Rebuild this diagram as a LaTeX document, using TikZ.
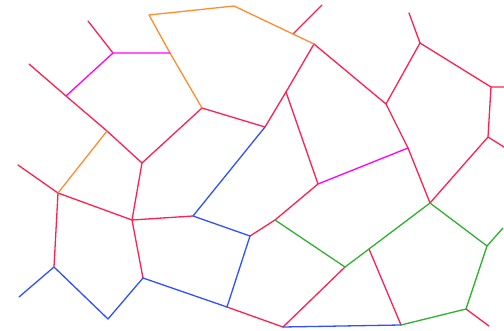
\documentclass[tikz,border=0pt]{standalone}
\begin{document}
\begin{tikzpicture}[x=1pt,y=-1pt,line join=round,line cap=round,
  e/.style={line width=1.3pt},
  rd/.style={e,draw=edgered},
  og/.style={e,draw=edgeorange},
  mg/.style={e,draw=edgemag},
  bl/.style={e,draw=edgeblue},
  gn/.style={e,draw=edgegreen}]
\definecolor{edgered}{RGB}{255,32,80}
\definecolor{edgeorange}{RGB}{255,140,48}
\definecolor{edgemag}{RGB}{255,0,255}
\definecolor{edgeblue}{RGB}{48,80,255}
\definecolor{edgegreen}{RGB}{48,176,48}
\useasboundingbox (0,0) rectangle (504,331);
% vertices
\coordinate (a1) at (88,21);
\coordinate (A) at (113,53);
\coordinate (O1) at (170,53);
\coordinate (B) at (66,96);
\coordinate (b0) at (29,64);
\coordinate (Q) at (107,131);
\coordinate (C) at (142,163);
\coordinate (D) at (58,193);
\coordinate (d0) at (18,165);
\coordinate (E) at (132,220);
\coordinate (F) at (193,216);
\coordinate (G) at (54,267);
\coordinate (g0) at (19,297);
\coordinate (H) at (108,319);
\coordinate (I) at (143,278);
\coordinate (J) at (227,307);
\coordinate (K) at (250,236);
\coordinate (L) at (283,327);
\coordinate (M) at (202,108);
\coordinate (N) at (265,127);
\coordinate (P) at (286,92);
\coordinate (R) at (314,44);
\coordinate (T0) at (149,15);
\coordinate (T2) at (234,6);
\coordinate (S) at (293,34);
\coordinate (s0) at (322,5);
\coordinate (V) at (386,104);
\coordinate (W) at (420,43);
\coordinate (w0) at (409,13);
\coordinate (X) at (491,87);
\coordinate (x0) at (504,87);
\coordinate (Y) at (488,137);
\coordinate (y0) at (504,147);
\coordinate (Z) at (408,148);
\coordinate (AA) at (318,184);
\coordinate (AB) at (275,220);
\coordinate (AC) at (430,203);
\coordinate (AD) at (487,246);
\coordinate (ad0) at (503,228);
\coordinate (AE) at (369,249);
\coordinate (AF) at (345,267);
\coordinate (AG) at (401,325);
\coordinate (AH) at (466,309);
\coordinate (ah0) at (489,326);
% red edges
\draw[rd] (a1) -- (A);
\draw[rd] (b0) -- (B) -- (Q) -- (C);
\draw[rd] (d0) -- (D);
\draw[rd] (C) -- (M) -- (N) -- (P) -- (R);
\draw[rd] (S) -- (s0);
\draw[rd] (R) -- (V);
\draw[rd] (w0) -- (W) -- (X) -- (x0);
\draw[rd] (W) -- (V) -- (Z) -- (AC);
\draw[rd] (X) -- (Y) -- (y0);
\draw[rd] (Y) -- (AC);
\draw[rd] (P) -- (AA) -- (AB) -- (K);
\draw[rd] (C) -- (E) -- (D) -- (G);
\draw[rd] (E) -- (F);
\draw[rd] (E) -- (I);
\draw[rd] (J) -- (L) -- (AF);
\draw[rd] (AE) -- (AG);
\draw[rd] (AH) -- (ah0);
% orange edges
\draw[og] (Q) -- (D);
\draw[og] (M) -- (O1) -- (T0) -- (T2) -- (R);
% magenta edges
\draw[mg] (B) -- (A) -- (O1);
\draw[mg] (AA) -- (Z);
% blue edges
\draw[bl] (N) -- (F) -- (K) -- (J) -- (I) -- (H) -- (G) -- (g0);
\draw[bl] (L) -- (AG);
% green edges
\draw[gn] (AB) -- (AF) -- (AE) -- (AC) -- (AD) -- (ad0);
\draw[gn] (AD) -- (AH) -- (AG);
\end{tikzpicture}
\end{document}
